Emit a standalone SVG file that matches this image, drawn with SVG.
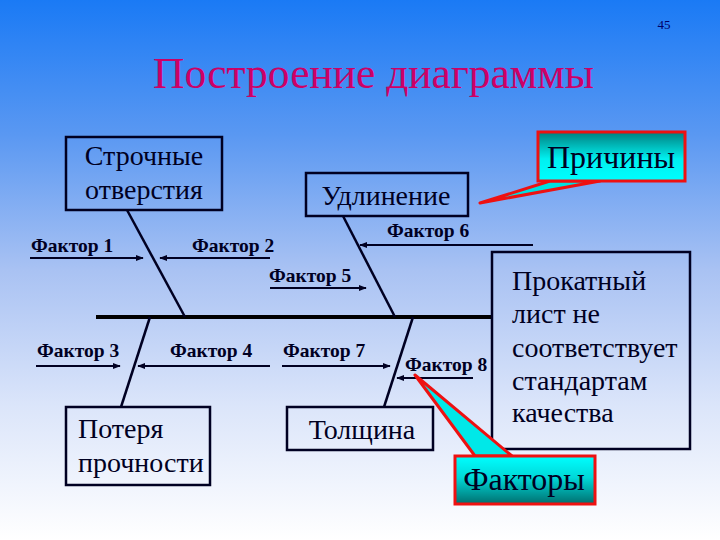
<svg xmlns="http://www.w3.org/2000/svg" width="720" height="540" viewBox="0 0 720 540">
<defs>
<linearGradient id="bg" x1="0" y1="0" x2="0" y2="1">
<stop offset="0" stop-color="#1a7af5"/>
<stop offset="0.25" stop-color="#5a98f2"/>
<stop offset="0.5" stop-color="#a9c2f3"/>
<stop offset="0.75" stop-color="#dbe5fa"/>
<stop offset="1" stop-color="#ffffff"/>
</linearGradient>
<linearGradient id="cyanDown" x1="0" y1="0" x2="0" y2="1">
<stop offset="0" stop-color="#007f7f"/>
<stop offset="0.55" stop-color="#00f0f0"/>
<stop offset="1" stop-color="#00ffff"/>
</linearGradient>
<linearGradient id="cyanUp" x1="0" y1="0" x2="0" y2="1">
<stop offset="0" stop-color="#00ffff"/>
<stop offset="0.45" stop-color="#00d8d8"/>
<stop offset="1" stop-color="#006f6f"/>
</linearGradient>
<marker id="ah" viewBox="0 0 10 10" refX="9" refY="5" markerWidth="4" markerHeight="4" orient="auto" markerUnits="strokeWidth">
<path d="M0,1 L10,5 L0,9 z" fill="#000022"/>
</marker>
<style>
text{font-family:"Times New Roman","Liberation Serif",Times,serif}
.box{fill:none;stroke:#000022;stroke-width:2.5}
.big{font-size:28px;fill:#000022}
.f{font-size:19.5px;font-weight:bold;fill:#000022}
.bone{stroke:#000022;stroke-width:2.5;fill:none}
.arr{stroke:#000022;stroke-width:2;fill:none;marker-end:url(#ah)}
.call{font-size:32px;fill:#000022}
</style>
</defs>
<rect x="0" y="0" width="720" height="540" fill="url(#bg)"/>
<text x="664" y="29" font-size="13" fill="#000066" text-anchor="middle">45</text>
<text x="153" y="88" font-size="43.5" fill="#cc0066">Построение диаграммы</text>

<g id="connectors">
<line x1="96" y1="317" x2="492" y2="317" stroke="#000000" stroke-width="4"/>
<line class="bone" x1="127" y1="210" x2="185" y2="317"/>
<line class="bone" x1="343" y1="216" x2="395" y2="317"/>
<line class="bone" x1="150" y1="317" x2="121" y2="407"/>
<line class="bone" x1="413" y1="317" x2="384" y2="407"/>
<line class="arr" x1="30" y1="258" x2="143" y2="258"/>
<line class="arr" x1="270" y1="258" x2="160" y2="258"/>
<line class="arr" x1="270" y1="288" x2="366" y2="288"/>
<line class="arr" x1="533" y1="245" x2="360" y2="245"/>
<line class="arr" x1="36" y1="366" x2="120" y2="366"/>
<line class="arr" x1="270" y1="366" x2="138" y2="366"/>
<line class="arr" x1="282" y1="366" x2="390" y2="366"/>
<line class="arr" x1="473" y1="378" x2="397" y2="378"/>
</g>

<g id="f1"><text class="f" x="31" y="252">Фактор 1</text></g>
<g id="f2"><text class="f" x="192" y="252">Фактор 2</text></g>
<g id="f5"><text class="f" x="269" y="282">Фактор 5</text></g>
<g id="f6"><text class="f" x="387" y="237">Фактор 6</text></g>
<g id="f3"><text class="f" x="37" y="357">Фактор 3</text></g>
<g id="f4"><text class="f" x="170" y="357">Фактор 4</text></g>
<g id="f7"><text class="f" x="283" y="357">Фактор 7</text></g>
<g id="f8"><text class="f" x="405" y="371">Фактор 8</text></g>

<g id="holes">
<rect class="box" x="66" y="137" width="156" height="73"/>
<text class="big" x="144" y="165" text-anchor="middle">Строчные</text>
<text class="big" x="144" y="199" text-anchor="middle">отверстия</text>
</g>
<g id="elong">
<rect class="box" x="306" y="173" width="162" height="43"/>
<text class="big" x="386" y="205" text-anchor="middle" font-size="29">Удлинение</text>
</g>
<g id="strength">
<rect class="box" x="66" y="407" width="144" height="78"/>
<text class="big" x="78" y="438">Потеря</text>
<text class="big" x="78" y="472">прочности</text>
</g>
<g id="thick">
<rect class="box" x="287" y="407" width="146" height="43"/>
<text class="big" x="362" y="439" text-anchor="middle" font-size="29.5">Толщина</text>
</g>
<g id="effect">
<rect class="box" x="492" y="252" width="198" height="197"/>
<text class="big" x="512" y="290">Прокатный</text>
<text class="big" x="512" y="323">лист не</text>
<text class="big" x="512" y="357">соответствует</text>
<text class="big" x="512" y="390">стандартам</text>
<text class="big" x="512" y="422">качества</text>
</g>

<g id="causes">
<path d="M550,181 L480,203 L600,181 Z" fill="#00e0e0" stroke="#ee1111" stroke-width="3" stroke-linejoin="round"/>
<rect x="538" y="132" width="147" height="49" fill="url(#cyanDown)" stroke="#ee1111" stroke-width="3"/>
<text class="call" x="611" y="168" text-anchor="middle">Причины</text>
</g>
<g id="factors">
<path d="M475,456 L415,375 L512,456 Z" fill="#00e8e8" stroke="#ee1111" stroke-width="3" stroke-linejoin="round"/>
<rect x="455" y="456" width="140" height="48" fill="url(#cyanUp)" stroke="#ee1111" stroke-width="3"/>
<text class="call" x="524" y="490" text-anchor="middle">Факторы</text>
</g>
</svg>
